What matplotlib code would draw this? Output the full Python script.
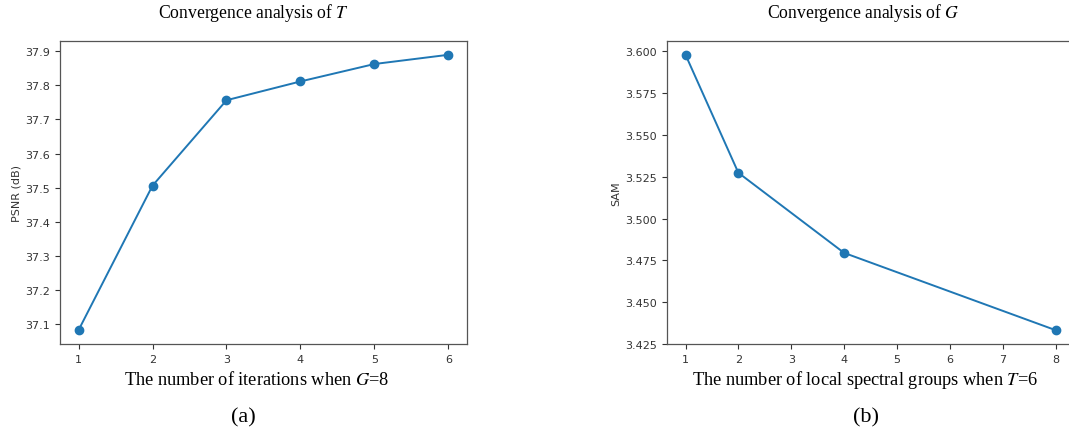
import matplotlib
matplotlib.use("Agg")
import matplotlib.pyplot as plt

# (a) PSNR vs number of iterations T (G=8)
iters = [1, 2, 3, 4, 5, 6]
psnr = [37.083, 37.506, 37.756, 37.811, 37.862, 37.889]

# (b) SAM vs number of local spectral groups G (T=6)
groups = [1, 2, 4, 8]
sam = [3.598, 3.5274, 3.4795, 3.4333]

plt.rcParams["mathtext.fontset"] = "stix"
serif = "Liberation Serif"
W, H = 1069, 439

fig = plt.figure(figsize=(W / 100, H / 100), dpi=100)


def box(x0, y0, x1, y1):
    return [x0 / W, 1 - y1 / H, (x1 - x0) / W, (y1 - y0) / H]


ax1 = fig.add_axes(box(60, 42, 467, 345))
ax2 = fig.add_axes(box(667, 42, 1074, 345))

for ax, x, y, lab in [(ax1, iters, psnr, "PSNR (dB)"), (ax2, groups, sam, "SAM")]:
    ax.plot(x, y, marker="o", color="#1f77b4", markersize=6, linewidth=1.4)
    ax.set_ylabel(lab, fontsize=8, color="#333333", labelpad=3)
    ax.tick_params(labelsize=8, colors="#333333", length=3.5, width=0.8)
    for s in ax.spines.values():
        s.set_color("#555555")
        s.set_linewidth(0.9)

ax1.set_xticks(iters)
ax2.set_xticks(range(1, 9))
ax2.set_ylim(3.425, 3.6062)
ax2.yaxis.set_major_formatter(matplotlib.ticker.FormatStrFormatter("%.3f"))

fig.text(253 / W, 1 - 13 / H, "Convergence analysis of $T$", family=serif,
         fontsize=12.7, ha="center", va="center")
fig.text(863 / W, 1 - 13 / H, "Convergence analysis of $G$", family=serif,
         fontsize=12.7, ha="center", va="center")
fig.text(257 / W, 1 - 380 / H, "The number of iterations when $G$=8", family=serif,
         fontsize=13.2, ha="center", va="center")
fig.text(865 / W, 1 - 380 / H, "The number of local spectral groups when $T$=6",
         family=serif, fontsize=13.2, ha="center", va="center")
fig.text(243 / W, 1 - 418 / H, "(a)", family=serif, fontsize=16,
         ha="center", va="center")
fig.text(866 / W, 1 - 418 / H, "(b)", family=serif, fontsize=16,
         ha="center", va="center")

fig.savefig("out.png", dpi=100)
